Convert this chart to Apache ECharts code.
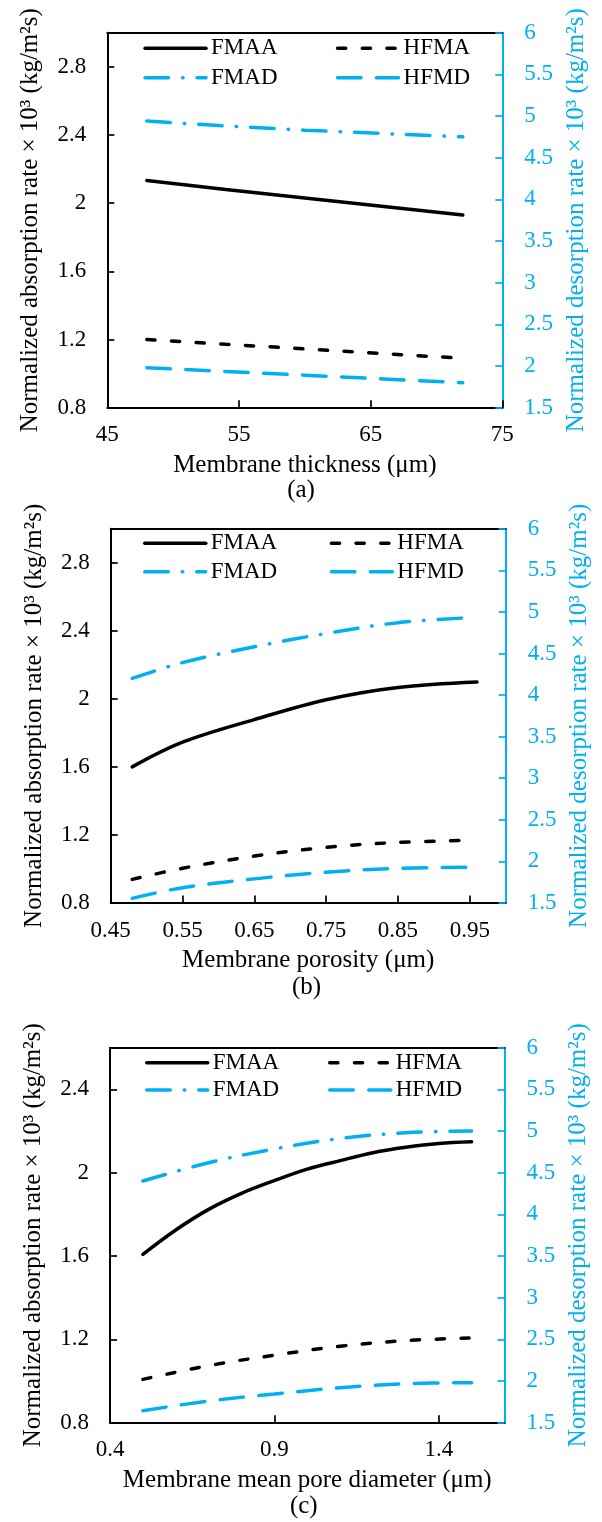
<!DOCTYPE html>
<html><head><meta charset="utf-8">
<script src="https://cdn.jsdelivr.net/npm/echarts@6/dist/echarts.min.js"></script>
<style>html,body{margin:0;padding:0;background:#fff}#c{width:602px;height:1522px}</style>
</head><body><div id="c"></div>
<script>
// ---- data ----
const seriesNames = ['FMAA', 'HFMA', 'FMAD', 'HFMD'];
const panelLabels = ['(a)', '(b)', '(c)'];
const xNames = ['Membrane thickness (μm)', 'Membrane porosity (μm)', 'Membrane mean pore diameter (μm)'];
const yNameLeft = 'Normalized absorption rate × 10³ (kg/m²s)';
const yNameRight = 'Normalized desorption rate × 10³ (kg/m²s)';

// panel (a)
const xA = [48, 54, 60, 66, 72];
const fmaaA = [2.133, 2.08, 2.03, 1.98, 1.93];
const hfmaA = [1.20, 1.172, 1.145, 1.117, 1.09];
const fmadA = [4.94, 4.88, 4.83, 4.79, 4.75];
const hfmdA = [1.98, 1.935, 1.89, 1.845, 1.80];
// panel (b)
const xB = [0.48, 0.55, 0.65, 0.75, 0.85, 0.95];
const xBfmaa = [0.48, 0.55, 0.65, 0.75, 0.85, 0.96];
const fmaaB = [1.60, 1.745, 1.878, 1.995, 2.067, 2.099];
const hfmaB = [0.939, 1.004, 1.076, 1.127, 1.156, 1.168];
const fmadB = [4.20, 4.39, 4.58, 4.74, 4.87, 4.93];
const hfmdB = [1.556, 1.684, 1.79, 1.87, 1.917, 1.929];
// panel (c)
const xC = [0.5, 0.7, 0.9, 1.1, 1.3, 1.5];
const xCfmaa = [0.5, 0.6, 0.7, 0.8, 0.9, 1.0, 1.1, 1.2, 1.3, 1.4, 1.5];
const fmaaC = [1.608, 1.725, 1.824, 1.901, 1.962, 2.017, 2.058, 2.096, 2.122, 2.14, 2.148];
const hfmaC = [1.008, 1.074, 1.124, 1.167, 1.194, 1.207];
const fmadC = [4.40, 4.62, 4.785, 4.91, 4.98, 5.0];
const hfmdC = [1.644, 1.76, 1.844, 1.92, 1.968, 1.98];

// ---- layout / styles ----
const BLUE = '#00B0F0';
const FONT = 'Liberation Serif';
const grids = [
  {left: 107.3, right: 99.7, top: 32.7, height: 375},
  {left: 110.7, right: 96.3, top: 528.7, height: 374.3},
  {left: 110, right: 97.5, top: 1047.7, height: 375}
];
const xCfg = [
  {min: 45, max: 75, interval: 10, dec: 0},
  {min: 0.45, max: 1.0, interval: 0.1, dec: 2},
  {min: 0.4, max: 1.6, interval: 0.5, dec: 1}
];
const yLeftCfg = [
  {min: 0.8, max: 3.0}, {min: 0.8, max: 3.0}, {min: 0.8, max: 2.6}
];
const legendPos = [
  {c1: 143.3, c2: 335.8, top: 36.8, gap: 6.4},
  {c1: 143, c2: 329.6, top: 531.8, gap: 5.4},
  {c1: 145, c2: 328, top: 1051.2, gap: 4.3}
];
const titlePos = [{x: 301, y: 477.5}, {x: 306.5, y: 975.2}, {x: 303.8, y: 1494.2}];
const lineStyles = {
  FMAA: {color: '#000', width: 3.5, type: 'solid', cap: 'round'},
  HFMA: {color: '#000', width: 3.5, type: [8.2, 16.5], cap: 'round'},
  FMAD: {color: BLUE, width: 3.5, type: [23.5, 14, 0.5, 14], cap: 'round'},
  HFMD: {color: BLUE, width: 3.5, type: [23.5, 15.5], cap: 'round'}
};

const panels = [
  {x: {FMAA: xA, HFMA: xA, FMAD: xA, HFMD: xA}, y: {FMAA: fmaaA, HFMA: hfmaA, FMAD: fmadA, HFMD: hfmdA}, smooth: false},
  {x: {FMAA: xBfmaa, HFMA: xB, FMAD: xB, HFMD: xB}, y: {FMAA: fmaaB, HFMA: hfmaB, FMAD: fmadB, HFMD: hfmdB}, smooth: 0.35},
  {x: {FMAA: xCfmaa, HFMA: xC, FMAD: xC, HFMD: xC}, y: {FMAA: fmaaC, HFMA: hfmaC, FMAD: fmadC, HFMD: hfmdC}, smooth: 0.35}
];

const tick = {fontFamily: FONT, fontSize: 23, color: '#000'};
const big = {fontFamily: FONT, fontSize: 25, color: '#000'};
const option = {animation: false, backgroundColor: '#fff', grid: [], xAxis: [], yAxis: [], series: [], legend: [], title: []};

grids.forEach((g, p) => {
  option.grid.push(Object.assign({containLabel: false}, g));
  const xc = xCfg[p];
  option.xAxis.push({
    type: 'value', gridIndex: p, position: 'bottom', min: xc.min, max: xc.max, interval: xc.interval,
    splitLine: {show: false},
    axisLine: {show: true, onZero: false, lineStyle: {color: '#000', width: 2}},
    axisTick: {show: true, inside: true, length: 7.5, lineStyle: {color: '#000', width: 1.7}},
    axisLabel: Object.assign({margin: 16, showMaxLabel: p === 0, formatter: v => (+v).toFixed(xc.dec)}, tick),
    name: xNames[p], nameLocation: 'middle', nameGap: 45, nameTextStyle: Object.assign({}, big)
  });
  option.xAxis.push({
    type: 'value', gridIndex: p, position: 'top', min: xc.min, max: xc.max, interval: xc.interval,
    splitLine: {show: false}, axisTick: {show: false}, axisLabel: {show: false},
    axisLine: {show: true, onZero: false, lineStyle: {color: '#000', width: 2}}
  });
  const yl = yLeftCfg[p];
  option.yAxis.push({
    type: 'value', gridIndex: p, position: 'left', min: yl.min, max: yl.max, interval: 0.4,
    splitLine: {show: false},
    axisLine: {show: true, onZero: false, lineStyle: {color: '#000', width: 2}},
    axisTick: {show: true, inside: true, length: 7, lineStyle: {color: '#000', width: 1.7}},
    axisLabel: Object.assign({margin: 21, showMaxLabel: false, formatter: v => String(+(+v).toFixed(1))}, tick),
    name: yNameLeft, nameLocation: 'middle', nameGap: 64, nameTextStyle: Object.assign({}, big)
  });
  option.yAxis.push({
    type: 'value', gridIndex: p, position: 'right', min: 1.5, max: 6, interval: 0.5,
    splitLine: {show: false},
    axisLine: {show: true, onZero: false, lineStyle: {color: BLUE, width: 2}},
    axisTick: {show: true, inside: true, length: 7, lineStyle: {color: BLUE, width: 1.7}},
    axisLabel: Object.assign({}, tick, {margin: 22, color: BLUE}),
    name: yNameRight, nameLocation: 'middle', nameGap: 59, nameTextStyle: Object.assign({}, big, {color: BLUE})
  });
  const pd = panels[p];
  seriesNames.forEach(n => {
    const right = (n === 'FMAD' || n === 'HFMD');
    option.series.push({
      type: 'line', name: n, xAxisIndex: p * 2, yAxisIndex: p * 2 + (right ? 1 : 0),
      data: pd.x[n].map((x, i) => [x, pd.y[n][i]]),
      smooth: pd.smooth, showSymbol: false, symbol: 'none',
      lineStyle: lineStyles[n], itemStyle: {color: lineStyles[n].color}
    });
  });
  const lp = legendPos[p];
  const legBase = {orient: 'vertical', top: lp.top, padding: 0, itemWidth: 61, itemHeight: 23, itemGap: lp.gap,
    textStyle: Object.assign({}, tick, {lineHeight: 23}), selectedMode: false,
    itemStyle: {opacity: 0, borderWidth: 0}, lineStyle: {width: 3.5}};
  option.legend.push(Object.assign({}, legBase, {left: lp.c1, data: ['FMAA', 'FMAD']}));
  option.legend.push(Object.assign({}, legBase, {left: lp.c2, data: ['HFMA', 'HFMD']}));
  option.title.push({text: panelLabels[p], left: titlePos[p].x, top: titlePos[p].y, textAlign: 'center',
    padding: 0, textStyle: Object.assign({}, big, {fontWeight: 'normal', lineHeight: 25})});
});

const chart = echarts.init(document.getElementById('c'), null, {renderer: 'canvas'});
chart.setOption(option);
</script></body></html>
